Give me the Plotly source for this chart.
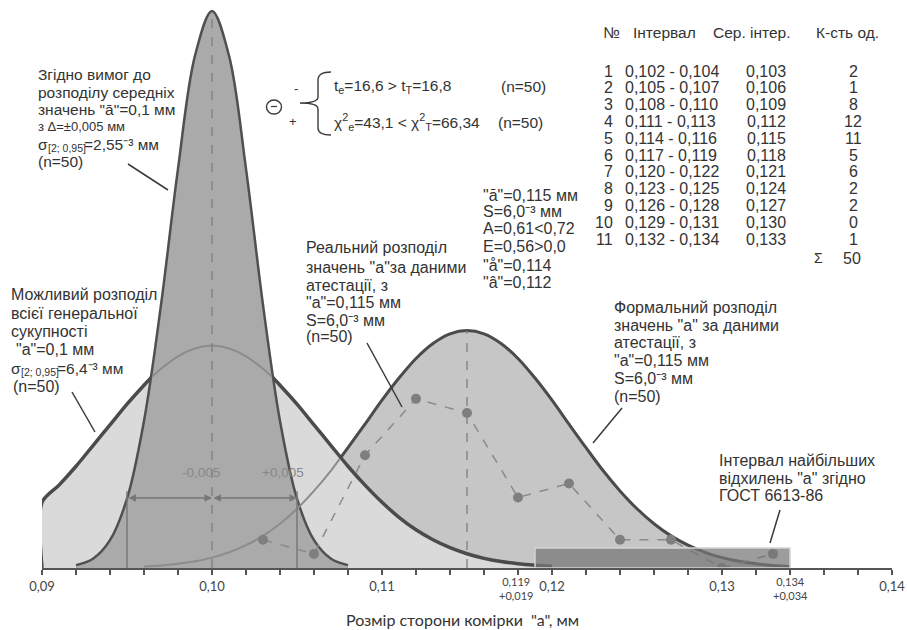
import plotly.graph_objects as go

# ---------------- data ----------------
# "Formal" distribution of "a" (attestation data), relative density
formal_x = [0.096, 0.097, 0.098, 0.099, 0.100, 0.101, 0.102, 0.103, 0.104, 0.105,
            0.106, 0.107, 0.1075, 0.108, 0.109, 0.110, 0.111, 0.112, 0.113, 0.114,
            0.115, 0.116, 0.117, 0.118, 0.119, 0.120, 0.121, 0.122, 0.123, 0.124,
            0.125, 0.126, 0.127, 0.128, 0.129, 0.130, 0.131, 0.132, 0.133, 0.134]
formal_y = [0.4, 0.7, 1.2, 1.9, 2.9, 4.4, 6.4, 9.0, 12.4, 16.6,
            21.6, 27.3, 30.5, 33.7, 40.3, 47.0, 53.2, 58.7, 62.9, 65.6,
            66.5, 65.6, 62.9, 58.7, 53.2, 47.0, 40.3, 33.7, 27.3, 21.6,
            16.6, 12.4, 9.0, 6.4, 4.4, 2.9, 1.9, 1.2, 0.7, 0.4]

# "Possible" distribution of the whole population
wide_x = [0.090, 0.090, 0.091, 0.092, 0.093, 0.094, 0.095, 0.096, 0.0965, 0.097,
          0.098, 0.099, 0.100, 0.101, 0.102, 0.103, 0.1035, 0.104, 0.105, 0.106,
          0.107, 0.108, 0.109, 0.110, 0.111, 0.112, 0.113, 0.114, 0.115, 0.116,
          0.117, 0.118, 0.119, 0.120]
wide_y = [0.0, 18.4, 23.2, 28.5, 34.3, 40.1, 45.9, 51.2, 53.7, 55.8,
          59.3, 61.5, 62.3, 61.5, 59.3, 55.8, 53.7, 51.2, 45.9, 40.1,
          34.3, 28.5, 23.2, 18.4, 14.2, 10.7, 7.9, 5.7, 4.0, 2.7,
          1.8, 1.2, 0.8, 0.5]

# Required distribution of means
narrow_x = [0.092, 0.093, 0.094, 0.095, 0.096, 0.097, 0.098, 0.099, 0.100,
            0.101, 0.102, 0.103, 0.104, 0.105, 0.106, 0.107, 0.108]
narrow_y = [0.8, 2.6, 7.8, 19.4, 41.2, 73.7, 111.8, 143.5, 156.0,
            143.5, 111.8, 73.7, 41.2, 19.4, 7.8, 2.6, 0.8]

# Real distribution (table)
row_no = [1, 2, 3, 4, 5, 6, 7, 8, 9, 10, 11]
intervals = ["0,102 - 0,104", "0,105 - 0,107", "0,108 - 0,110", "0,111 - 0,113",
             "0,114 - 0,116", "0,117 - 0,119", "0,120 - 0,122", "0,123 - 0,125",
             "0,126 - 0,128", "0,129 - 0,131", "0,132 - 0,134"]
mids = [0.103, 0.106, 0.109, 0.112, 0.115, 0.118, 0.121, 0.124, 0.127, 0.130, 0.133]
counts = [2, 1, 8, 12, 11, 5, 6, 2, 2, 0, 1]

req_mean = 0.10
tol = 0.005
formal_mean = 0.115
gost_interval = [0.119, 0.134]
gost_labels = ["0,119<br>+0,019", "0,134<br>+0,034"]

tick_vals = [0.09, 0.10, 0.11, 0.12, 0.13, 0.14]
tick_text = ["0,09", "0,10", "0,11", "0,12", "0,13", "0,14"]

# ---------------- layout helpers ----------------
W, H = 907, 630
L, R, T, B = 42, 15, 0, 62
PW, PH = W - L - R, H - T - B

def px(x):
    return (x - L) / PW

def py(y):
    return (H - B - y) / PH

REG = "Liberation Sans, Arial, sans-serif"
CAL = "Lato, Open Sans, sans-serif"
TXT = "#333333"

DARK = "#4b4b4b"
THIN = "#8c8c8c"

fig = go.Figure()

# formal distribution (fill + thick outline)
fig.add_trace(go.Scatter(x=formal_x, y=formal_y, mode="lines", fill="tozeroy",
                         fillcolor="#c6c6c6",
                         line=dict(color=DARK, width=3, shape="spline", smoothing=1)))
# possible distribution of whole population
fig.add_trace(go.Scatter(x=wide_x, y=wide_y, mode="lines", fill="tozeroy",
                         fillcolor="#dadada",
                         line=dict(color=DARK, width=3.5, shape="spline", smoothing=0.8)))
# required distribution of means
fig.add_trace(go.Scatter(x=narrow_x, y=narrow_y, mode="lines", fill="tozeroy",
                         fillcolor="#aaaaaa",
                         line=dict(color="#505050", width=2.5, shape="spline", smoothing=1)))

# thin continuation of the wide curve inside the narrow one
wx = [x for x in wide_x if abs(x - req_mean) <= 0.0035 + 1e-9]
wy = [y for x, y in zip(wide_x, wide_y) if abs(x - req_mean) <= 0.0035 + 1e-9]
fig.add_trace(go.Scatter(x=wx, y=wy, mode="lines",
                         line=dict(color=THIN, width=2, shape="spline", smoothing=1)))
# thin left part of the formal curve (under the other fills)
fx = [x for x in formal_x if x <= 0.1075 + 1e-9]
fy = [y for x, y in zip(formal_x, formal_y) if x <= 0.1075 + 1e-9]
fig.add_trace(go.Scatter(x=fx, y=fy, mode="lines",
                         line=dict(color=THIN, width=2, shape="spline", smoothing=1)))

# dashed mean lines
fig.add_trace(go.Scatter(x=[req_mean, req_mean], y=[0, max(narrow_y)], mode="lines",
                         line=dict(color="#7a7a7a", width=1.2, dash="dash")))
fig.add_trace(go.Scatter(x=[formal_mean, formal_mean], y=[0, max(formal_y)], mode="lines",
                         line=dict(color="#7a7a7a", width=1.2, dash="dash")))

# real distribution polygon
fig.add_trace(go.Scatter(x=mids, y=counts, yaxis="y2", mode="lines+markers",
                         line=dict(color="#8a8a8a", width=1.5, dash="dash"),
                         marker=dict(color="#7f7f7f", size=10)))

shapes = []
ann = []

# tolerance verticals and arrows
for xv in (req_mean - tol, req_mean + tol):
    shapes.append(dict(type="line", xref="x", yref="y", x0=xv, x1=xv, y0=0, y1=21.5,
                       line=dict(color="#777777", width=1.5)))
for a, b in ((req_mean - tol, req_mean), (req_mean, req_mean + tol)):
    ann.append(dict(xref="x", yref="y", axref="x", ayref="y", x=b, y=19.6, ax=a, ay=19.6,
                    text="", showarrow=True, arrowhead=2, arrowside="end+start",
                    arrowsize=1, arrowwidth=1.5, arrowcolor="#777777"))
ann.append(dict(xref="paper", yref="paper", x=px(180), y=py(482), text="-0,005",
                showarrow=False, font=dict(family=REG, size=13.5, color="#888888")))
ann.append(dict(xref="paper", yref="paper", x=px(260), y=py(482), text="+0,005",
                showarrow=False, font=dict(family=REG, size=13.5, color="#888888")))

# GOST interval box
shapes.append(dict(type="rect", xref="x", yref="y", x0=gost_interval[0], x1=gost_interval[1],
                   y0=0, y1=5.6, fillcolor="rgba(118,118,118,0.72)",
                   line=dict(color="#d4d4d4", width=1.5), layer="above"))

def txt(x, y, s, size=16, family=REG, color=TXT, xanchor="left"):
    ann.append(dict(xref="paper", yref="paper", x=px(x), y=py(y), text=s, showarrow=False,
                    xanchor=xanchor, yanchor="middle", borderpad=0,
                    font=dict(family=family, size=size, color=color)))

def pointer(x0, y0, x1, y1):
    shapes.append(dict(type="line", xref="paper", yref="paper", x0=px(x0), y0=py(y0),
                       x1=px(x1), y1=py(y1), line=dict(color="#3a3a3a", width=1.5)))

def sigma_line(x_sig, x_sub, x_rest, y, rest):
    txt(x_sig, y, "σ", size=15.5)
    txt(x_sub, y + 4, "[2; 0,95]", size=10.5)
    txt(x_rest, y, rest, size=15.5)

# top-left block
txt(37, 74, "Згідно вимог до", size=15.5)
txt(37, 92, "розподілу середніх", size=15.5)
txt(37, 109, 'значень "ā"=0,1 мм', size=15.5)
txt(37, 127, "з Δ=±0,005 мм", size=13)
sigma_line(37, 46.5, 83, 144, "=2,55⁻³ мм")
txt(37, 162, "(n=50)", size=15.5)
pointer(128, 164, 168, 190)

# possible distribution block
txt(10, 295, "Можливий розподіл")
txt(10, 313, "всієї генеральної")
txt(10, 331, "сукупності")
txt(15, 349, '"а"=0,1 мм')
sigma_line(10, 19.5, 56, 368, "=6,4⁻³ мм")
txt(12, 386, "(n=50)")
pointer(72, 392, 95, 432)

# real distribution block
txt(305, 248, "Реальний розподіл")
txt(305, 267, 'значень "а"за даними')
txt(305, 285, "атестації, з")
txt(305, 302, '"а"=0,115 мм')
txt(305, 320, "S=6,0⁻³ мм")
txt(305, 337, "(n=50)")
pointer(367, 343, 402, 407)

# statistics block
txt(482, 195, '"ā"=0,115 мм', size=16)
txt(482, 212, "S=6,0⁻³ мм", size=16)
txt(482, 229, "A=0,61&lt;0,72", size=16)
txt(482, 246, "E=0,56&gt;0,0", size=16)
txt(482, 265, '"å"=0,114', size=16)
txt(482, 283, '"â"=0,112', size=16)

# formal block
txt(613, 307, "Формальний розподіл")
txt(613, 325, 'значень "а" за даними')
txt(613, 342, "атестації, з")
txt(613, 360, '"а"=0,115 мм')
txt(613, 378, "S=6,0⁻³ мм")
txt(613, 396, "(n=50)")
pointer(622, 408, 593, 443)

# GOST block
txt(718, 460, "Інтервал найбільших")
txt(718, 478, 'відхилень "а" згідно')
txt(718, 495, "ГОСТ 6613-86")
pointer(780, 510, 770, 543)

# hypothesis formula
txt(333, 86, "t<sub>e</sub>=16,6 &gt; t<sub>T</sub>=16,8", size=15.5)
txt(500, 86, "(n=50)", size=15.5)
txt(333, 122, "χ<sup>2</sup><sub>e</sub>=43,1 &lt; χ<sup>2</sup><sub>T</sub>=66,34", size=15.5)
txt(497, 122, "(n=50)", size=15.5)
txt(296, 88, "-", size=13, xanchor="center")
txt(293, 121, "+", size=13, xanchor="center")
shapes.append(dict(type="circle", xref="paper", yref="paper", x0=px(266.5), x1=px(281.5),
                   y0=py(100), y1=py(114), line=dict(color="#3a3a3a", width=1.4)))
shapes.append(dict(type="line", xref="paper", yref="paper", x0=px(271), x1=px(277),
                   y0=py(106.5), y1=py(106.5), line=dict(color="#3a3a3a", width=1.2)))

def P(x, y):
    return f"{px(x):.5f},{py(y):.5f}"

brace = (f"M {P(331,72)} Q {P(318,72)} {P(318,80)} L {P(318,97)} "
         f"Q {P(318,103)} {P(300,103)} Q {P(318,103)} {P(318,109)} "
         f"L {P(318,128)} Q {P(318,135)} {P(331,135)}")
shapes.append(dict(type="path", xref="paper", yref="paper", path=brace,
                   line=dict(color="#3a3a3a", width=1.4)))

# table
txt(602, 33, "№", size=15.5)
txt(632, 33, "Інтервал", size=15.5)
txt(712, 33, "Сер. інтер.", size=15.5)
txt(815, 33, "К-сть од.", size=15.5)
for i, (n, iv, m, c) in enumerate(zip(row_no, intervals, mids, counts)):
    yy = 71 + 16.83 * i
    txt(614, yy, str(n), size=16, xanchor="right")
    txt(624, yy, iv, size=16)
    txt(766, yy, f"{m:.3f}".replace(".", ","), size=16, xanchor="center")
    txt(853, yy, str(c), size=16, xanchor="center")
txt(818, 258, "Σ", size=14, xanchor="center")
txt(852, 258, str(sum(counts)), size=16, xanchor="center")

# extra axis labels for the GOST interval
for xv, lab, sh in zip(gost_interval, gost_labels, (-19, 0)):
    ann.append(dict(xref="x", yref="paper", x=xv, y=py(574), xshift=sh,
                    text=lab, showarrow=False, yanchor="top", borderpad=0,
                    font=dict(family=CAL, size=11, color="#444444")))

# axis title
txt(462, 619, 'Розмір сторони комірки  "а", мм', size=16, family=CAL, color="#333333",
    xanchor="center")

fig.update_layout(
    width=W, height=H,
    margin=dict(l=L, r=R, t=T, b=B),
    paper_bgcolor="white", plot_bgcolor="white",
    showlegend=False, hovermode=False,
    shapes=shapes, annotations=ann,
    xaxis=dict(range=[0.09, 0.14], tickvals=tick_vals, ticktext=tick_text,
               ticks="outside", ticklen=5, tickwidth=1.5, tickcolor="#555555",
               showline=True, linecolor="#555555", linewidth=2,
               showgrid=False, zeroline=False,
               tickfont=dict(family=CAL, size=13, color="#444444"),
               minor=dict(ticks="outside", dtick=0.002, ticklen=5, tickwidth=1.5,
                          tickcolor="#555555", showgrid=False)),
    yaxis=dict(range=[0, 159.1], visible=False, fixedrange=True),
    yaxis2=dict(range=[0, 40.3], overlaying="y", visible=False),
)

fig.write_html("out.html", config={"displayModeBar": False},
               post_script="document.body.style.margin='0';document.body.style.padding='0';")
